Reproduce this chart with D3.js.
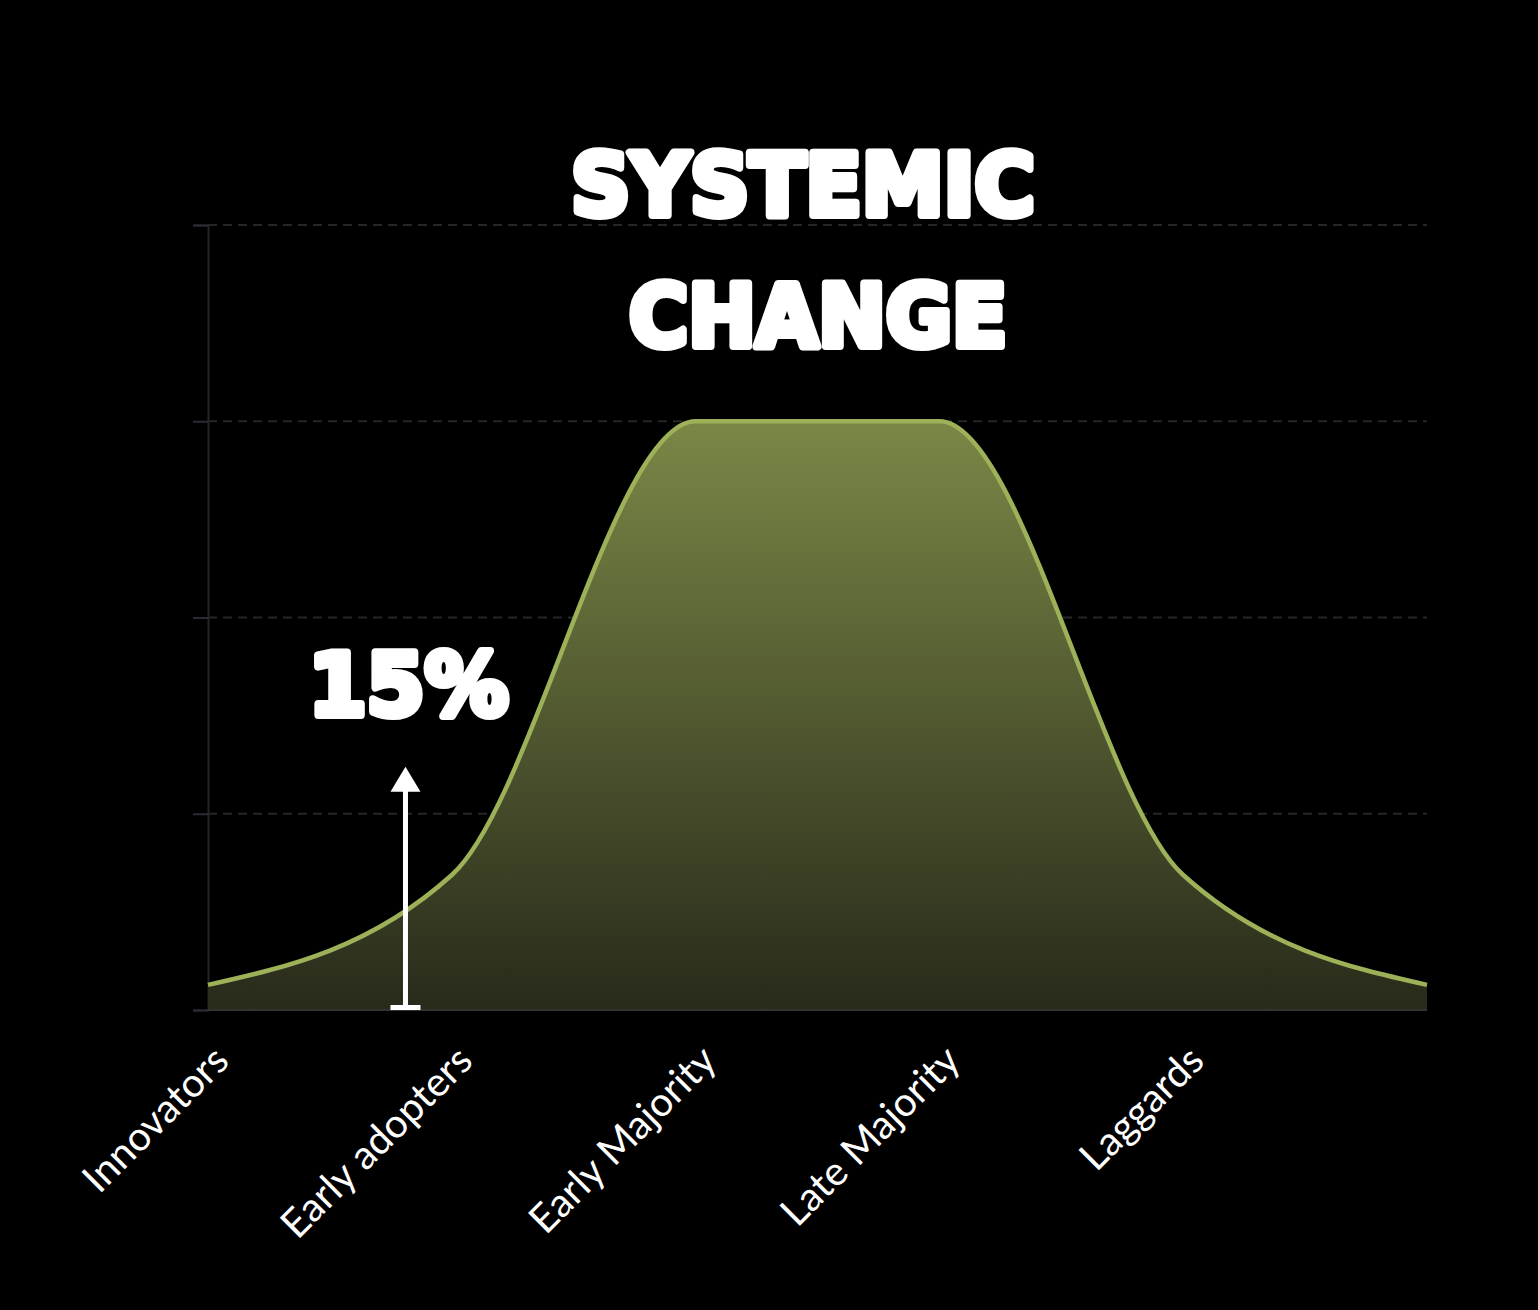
<!DOCTYPE html>
<html>
<head>
<meta charset="utf-8">
<script src="https://cdn.jsdelivr.net/npm/d3@7"></script>
<style>
  html, body { margin: 0; padding: 0; background: #000; }
  svg { display: block; }
</style>
</head>
<body>
<svg id="chart" width="1538" height="1310"></svg>
<script>
// ---- data ----
const categories = ["Innovators", "Early adopters", "Early Majority", "Late Majority", "Laggards", ""];
const adoption = [3.2, 17.2, 75, 75, 17.2, 3.2];
const yTicks = [0, 25, 50, 75, 100];
const titleLines = ["SYSTEMIC", "CHANGE"];
const thresholdLabel = "15%";
const thresholdIndex = 0.81;     // position of the arrow along the category axis
const thresholdArrowTop = 31;    // value reached by the arrow tip

// ---- layout ----
const W = 1538, H = 1310;
const m = { left: 208, right: 111, top: 225, bottom: 300 };
const svg = d3.select("#chart");

const x = d3.scaleLinear().domain([0, categories.length - 1]).range([m.left, W - m.right]);
const y = d3.scaleLinear().domain([0, 100]).range([H - m.bottom, m.top]);

svg.append("rect").attr("width", W).attr("height", H).attr("fill", "#000");

const defs = svg.append("defs");
const grad = defs.append("linearGradient")
  .attr("id", "fillGrad").attr("gradientUnits", "userSpaceOnUse")
  .attr("x1", 0).attr("x2", 0).attr("y1", y(75)).attr("y2", y(0));
grad.append("stop").attr("offset", 0).attr("stop-color", "#7a8746");
grad.append("stop").attr("offset", 1).attr("stop-color", "#282a1a");

// grid lines
svg.append("g").selectAll("line").data(yTicks.filter(d => d > 0)).join("line")
  .attr("x1", x(0)).attr("x2", x(categories.length - 1))
  .attr("y1", d => y(d)).attr("y2", d => y(d))
  .attr("stroke", "#262626").attr("stroke-width", 2).attr("stroke-dasharray", "9,6");

// y axis
const yAxis = svg.append("g").attr("transform", `translate(${m.left},0)`)
  .call(d3.axisLeft(y).tickValues(yTicks).tickSize(15).tickFormat(""));
yAxis.select(".domain").attr("stroke", "#24242b").attr("stroke-width", 2);
yAxis.selectAll(".tick line").attr("stroke", "#2b2b33").attr("stroke-width", 2);

// area + line
const area = d3.area().x((d, i) => x(i)).y0(y(0)).y1(d => y(d)).curve(d3.curveMonotoneX);
const line = d3.line().x((d, i) => x(i)).y(d => y(d)).curve(d3.curveMonotoneX);
svg.append("path").datum(adoption).attr("d", area).attr("fill", "url(#fillGrad)");
svg.append("path").datum(adoption).attr("d", line)
  .attr("fill", "none").attr("stroke", "#9db159").attr("stroke-width", 4.5);

// x axis baseline
svg.append("line").attr("x1", x(0)).attr("x2", x(categories.length - 1))
  .attr("y1", y(0)).attr("y2", y(0)).attr("stroke", "#333").attr("stroke-width", 2);

// x labels
svg.append("g").selectAll("text").data(categories.filter(c => c)).join("text")
  .attr("transform", (d, i) => `translate(${x(i) + 23},${y(0) + 53}) rotate(-45)`)
  .attr("text-anchor", "end")
  .attr("fill", "#fff")
  .attr("font-family", "Lato, 'Open Sans', sans-serif")
  .attr("font-size", 40)
  .text(d => d);

// threshold arrow
const ax = x(thresholdIndex);
const arrow = svg.append("g");
arrow.append("line").attr("x1", ax).attr("x2", ax)
  .attr("y1", y(0) - 3).attr("y2", y(thresholdArrowTop) + 20)
  .attr("stroke", "#fff").attr("stroke-width", 5);
arrow.append("rect").attr("x", ax - 15).attr("width", 30)
  .attr("y", y(0) - 5).attr("height", 5).attr("fill", "#fff");
arrow.append("path")
  .attr("d", `M${ax},${y(thresholdArrowTop)} L${ax + 15},${y(thresholdArrowTop) + 25} L${ax - 15},${y(thresholdArrowTop) + 25} Z`)
  .attr("fill", "#fff");

// heavy labels
function heavy(sel) {
  return sel.attr("fill", "#fff").attr("stroke", "#fff").attr("stroke-width", 8)
    .attr("stroke-linejoin", "round")
    .attr("font-family", "'DejaVu Sans', sans-serif").attr("font-weight", "bold")
    .attr("font-size", 86).attr("text-anchor", "middle")
    .attr("lengthAdjust", "spacingAndGlyphs");
}
heavy(svg.append("text")).attr("x", ax + 3).attr("y", 715)
  .attr("textLength", 200).text(thresholdLabel);

heavy(svg.append("text")).attr("x", 803).attr("y", 215)
  .attr("textLength", 464).text(titleLines[0]);
heavy(svg.append("text")).attr("x", 818).attr("y", 346)
  .attr("textLength", 378).text(titleLines[1]);
</script>
</body>
</html>
